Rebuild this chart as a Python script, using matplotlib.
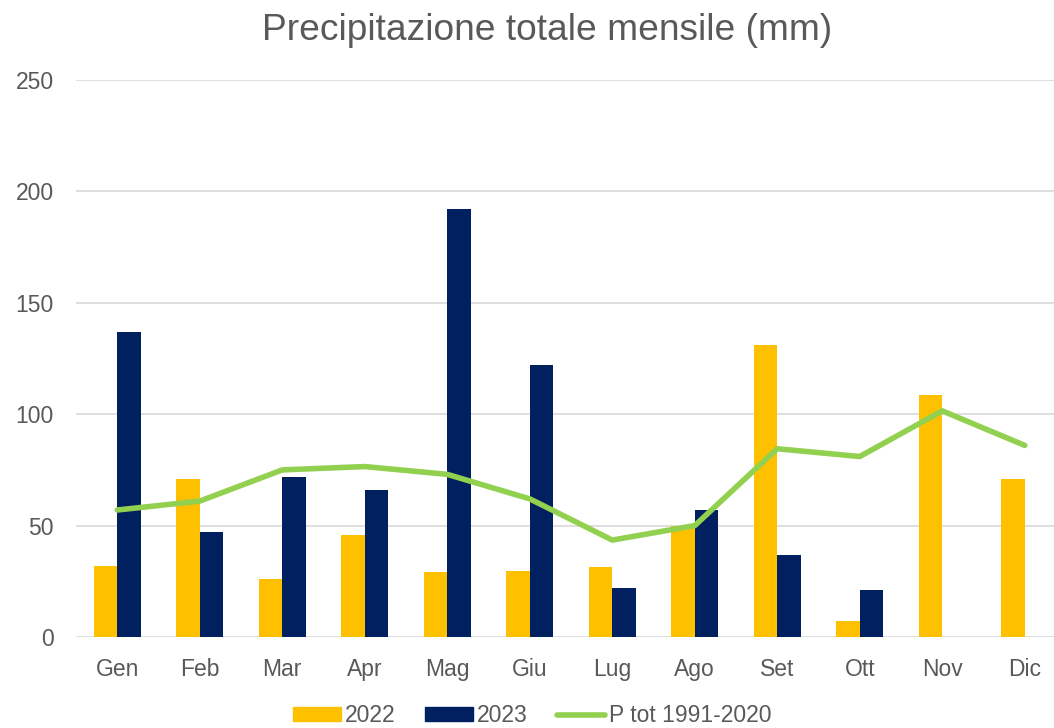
import matplotlib
matplotlib.use("Agg")
import matplotlib.pyplot as plt
import numpy as np
from matplotlib.lines import Line2D
from matplotlib.patches import Patch

months = ["Gen", "Feb", "Mar", "Apr", "Mag", "Giu", "Lug", "Ago", "Set", "Ott", "Nov", "Dic"]
p2022 = [32, 71, 26, 46, 29, 29.5, 31.5, 50, 131, 7, 108.5, 71]
p2023 = [137, 47, 72, 66, 192, 122, 22, 57, 37, 21, 0, 0]
p_norm = [57, 61, 75, 76.5, 73, 62, 43.5, 50, 84.5, 81, 101.5, 86]
yticks = [0, 50, 100, 150, 200, 250]

plt.rcParams['font.family'] = ['Liberation Sans', 'DejaVu Sans']
gray = "#595959"

fig = plt.figure(figsize=(10.54, 7.28), dpi=100)
W, H = 1054, 728
left, right = 76, 1066
bottom, top = 637, 80
ax = fig.add_axes([left / W, (H - bottom) / H, (right - left) / W, (bottom - top) / H])

x = np.arange(len(months))
bw = 0.285
ax.bar(x - bw / 2, p2022, bw, color="#FFC000", zorder=2)
ax.bar(x + bw / 2, p2023, bw, color="#002060", zorder=2)
ax.plot(x, p_norm, color="#92D050", lw=4, solid_capstyle="round", solid_joinstyle="round", zorder=3)

ax.set_xlim(-0.5, 11.5)
ax.set_ylim(0, 250)
ax.set_yticks(yticks)
ax.set_xticks(x)
ax.set_xticklabels(months)
ax.tick_params(axis="both", length=0, labelsize=16.5, colors=gray)
ax.tick_params(axis="x", pad=15)
ax.tick_params(axis="y", pad=16)
ax.grid(axis="y", color="#D9D9D9", lw=1.2, zorder=0)
for s in ax.spines.values():
    s.set_visible(False)

fig.text(547 / W, 1 - 31 / H, "Precipitazione totale mensile (mm)", ha="center", va="center",
         fontsize=26.7, color=gray)

handles = [Patch(color="#FFC000", label="2022"),
           Patch(color="#002060", label="2023"),
           Line2D([0], [0], color="#92D050", lw=4, solid_capstyle="round", label="P tot 1991-2020")]
fig.legend(handles=handles, loc="center", bbox_to_anchor=(532 / W, 1 - 716 / H), ncol=3,
           frameon=False, fontsize=16.5, labelcolor=gray, handlelength=2.1, handleheight=0.55,
           handletextpad=0.15, columnspacing=1.3, borderpad=0)

fig.savefig("out.png", dpi=100)
